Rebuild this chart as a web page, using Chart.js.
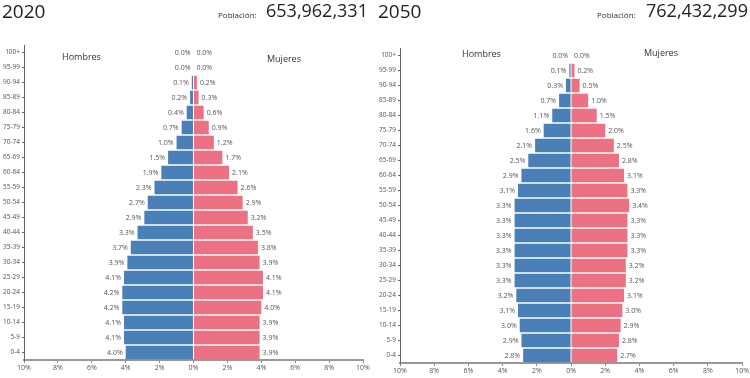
<!DOCTYPE html>
<html>
<head>
<meta charset="utf-8">
<script src="https://cdn.jsdelivr.net/npm/chart.js@4"></script>
<style>
  html,body{margin:0;padding:0;background:#fff;width:750px;height:378px;overflow:hidden;font-family:"Open Sans",sans-serif;}
  .panel{position:absolute;top:0;width:375px;height:378px;}
  .year{position:absolute;top:-2px;font-size:19px;color:#222;}
  .pl{position:absolute;top:9px;font-size:8px;color:#333;}
  .pop{position:absolute;top:-2px;font-size:18px;color:#222;}
  canvas{position:absolute;left:0;top:0;}
</style>
</head>
<body>
<div class="panel" style="left:0">
  <canvas id="c1" width="375" height="378"></canvas>
  <div class="year" style="left:2px">2020</div>
  <div class="pl" style="left:218px">Población:</div>
  <div class="pop" style="left:266px">653,962,331</div>
</div>
<div class="panel" style="left:375px">
  <canvas id="c2" width="375" height="378"></canvas>
  <div class="year" style="left:3px">2050</div>
  <div class="pl" style="left:222px">Población:</div>
  <div class="pop" style="left:271px">762,432,299</div>
</div>
<script>
const ages = ["100+","95-99","90-94","85-89","80-84","75-79","70-74","65-69","60-64","55-59","50-54","45-49","40-44","35-39","30-34","25-29","20-24","15-19","10-14","5-9","0-4"];
const xTicks = [-10,-8,-6,-4,-2,0,2,4,6,8,10];

const male2020   = [0.0,0.0,0.1,0.2,0.4,0.7,1.0,1.5,1.9,2.3,2.7,2.9,3.3,3.7,3.9,4.1,4.2,4.2,4.1,4.1,4.0];
const female2020 = [0.0,0.0,0.2,0.3,0.6,0.9,1.2,1.7,2.1,2.6,2.9,3.2,3.5,3.8,3.9,4.1,4.1,4.0,3.9,3.9,3.9];
const male2050   = [0.0,0.1,0.3,0.7,1.1,1.6,2.1,2.5,2.9,3.1,3.3,3.3,3.3,3.3,3.3,3.3,3.2,3.1,3.0,2.9,2.8];
const female2050 = [0.0,0.2,0.5,1.0,1.5,2.0,2.5,2.8,3.1,3.3,3.4,3.3,3.3,3.3,3.2,3.2,3.1,3.0,2.9,2.8,2.7];

const BLUE = '#4a80b7';
const PINK = '#eb7183';

const valueLabels = {
  id: 'valueLabels',
  afterDatasetsDraw(chart, args, opts) {
    const ctx = chart.ctx;
    ctx.save();
    ctx.font = '7px "Open Sans", sans-serif';
    ctx.fillStyle = '#555';
    ctx.textBaseline = 'middle';
    chart.data.datasets.forEach((ds, di) => {
      const meta = chart.getDatasetMeta(di);
      meta.data.forEach((el, i) => {
        const v = Math.abs(ds.data[i]);
        const t = v.toFixed(1) + '%';
        if (di === 0) { ctx.textAlign = 'right'; ctx.fillText(t, el.x - 3, el.y); }
        else { ctx.textAlign = 'left'; ctx.fillText(t, el.x + 3, el.y); }
      });
    });
    // sex titles
    ctx.font = '9px "Open Sans", sans-serif';
    ctx.fillStyle = '#333';
    ctx.textAlign = 'left';
    ctx.fillText('Hombres', opts.hx, opts.hy);
    ctx.fillText('Mujeres', opts.mx, opts.my);
    ctx.restore();
  }
};

function makeChart(id, male, female, cfg) {
  return new Chart(document.getElementById(id), {
    type: 'bar',
    data: {
      labels: ages,
      datasets: [
        { label: 'Hombres', data: male.map(v => -v), backgroundColor: BLUE, barPercentage: 0.9, categoryPercentage: 1 },
        { label: 'Mujeres', data: female, backgroundColor: PINK, barPercentage: 0.9, categoryPercentage: 1 }
      ]
    },
    options: {
      indexAxis: 'y',
      responsive: false,
      animation: false,
      layout: { padding: { left: 0, top: cfg.top, right: cfg.right, bottom: 0 } },
      plugins: {
        legend: { display: false },
        tooltip: { enabled: false },
        valueLabels: cfg.labels
      },
      scales: {
        x: {
          stacked: true,
          min: -10, max: 10,
          afterBuildTicks: s => { s.ticks = xTicks.map(v => ({ value: v })); },
          afterFit: s => { s.height = cfg.xh; },
          ticks: {
            callback: v => Math.abs(v) + '%',
            font: { size: 7, family: '"Open Sans", sans-serif' },
            color: '#555',
            padding: 1,
            maxRotation: 0,
            autoSkip: false
          },
          grid: { display: true, drawOnChartArea: false, drawTicks: true, tickLength: 3, color: '#888' },
          border: { display: true, color: '#999', width: 2 }
        },
        y: {
          stacked: true,
          afterFit: s => { s.width = cfg.yw; },
          ticks: {
            font: { size: 6.5, family: '"Open Sans", sans-serif' },
            color: '#555',
            padding: 2,
            autoSkip: false
          },
          grid: { display: true, offset: false, drawOnChartArea: false, drawTicks: true, tickLength: 2, color: '#666' },
          border: { display: true, color: '#666', width: 1 }
        }
      }
    },
    plugins: [valueLabels]
  });
}

makeChart('c1', male2020, female2020, {
  top: 45, right: 12, xh: 18, yw: 24,
  labels: { hx: 62, hy: 57, mx: 267, my: 59 }
});
makeChart('c2', male2050, female2050, {
  top: 48, right: 7, xh: 15, yw: 25,
  labels: { hx: 87, hy: 54, mx: 269, my: 53 }
});
</script>
</body>
</html>
